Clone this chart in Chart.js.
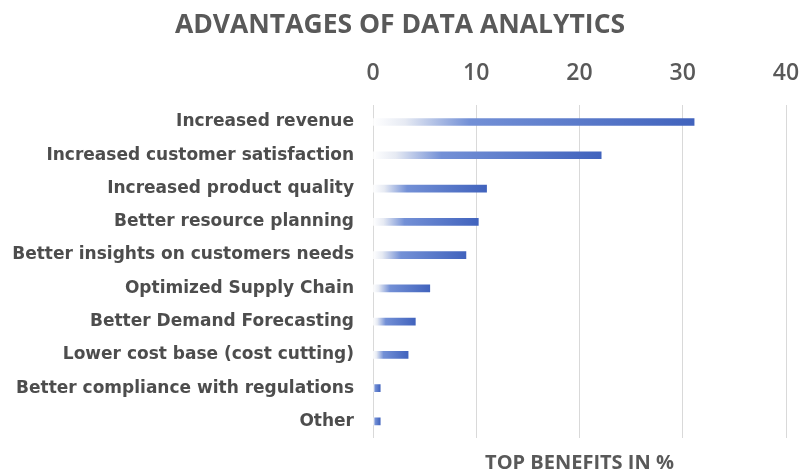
<!DOCTYPE html>
<html>
<head>
<meta charset="utf-8">
<script src="https://cdn.jsdelivr.net/npm/chart.js@4/dist/chart.umd.min.js"></script>
<style>
  html, body { margin: 0; padding: 0; background: #fff; }
  #wrap { width: 800px; height: 475px; }
</style>
</head>
<body>
<div id="wrap"><canvas id="benefits"></canvas></div>
<script>
const categories = [
  'Increased revenue',
  'Increased customer satisfaction',
  'Increased product quality',
  'Better resource planning',
  'Better insights on customers needs',
  'Optimized Supply Chain',
  'Better Demand Forecasting',
  'Lower cost base (cost cutting)',
  'Better compliance with regulations',
  'Other'
];
const benefitPct = [31.1, 22.1, 11, 10.2, 9, 5.5, 4.1, 3.4, 0.7, 0.7];
const tickValues = [0, 10, 20, 30, 40];

const grey = '#595959';

// each bar fades in from white at its base to blue at its tip
function barFill(ctx) {
  const chart = ctx.chart;
  if (!chart.chartArea || ctx.dataIndex === undefined) return '#4a6cc4';
  const x = chart.scales.x;
  const x0 = x.getPixelForValue(0);
  const x1 = x.getPixelForValue(ctx.raw);
  if (x1 - x0 < 1) return '#4a6cc4';
  const g = chart.ctx.createLinearGradient(x0, 0, x1, 0);
  g.addColorStop(0, 'rgba(255,255,255,1)');
  g.addColorStop(0.1, '#e6eaf3');
  g.addColorStop(0.3, '#7390d6');
  g.addColorStop(1, '#4163bd');
  return g;
}

// keep the plot's right edge close to the canvas edge
function trimPadding(s) {
  s.paddingLeft = 0;
  s.paddingRight = 14;
}

new Chart(document.getElementById('benefits'), {
  type: 'bar',
  data: {
    labels: categories,
    datasets: [{
      label: 'Top benefits in %',
      data: benefitPct,
      backgroundColor: barFill,
      barThickness: 7,
      borderWidth: 0
    }]
  },
  options: {
    indexAxis: 'y',
    responsive: true,
    maintainAspectRatio: false,
    animation: false,
    layout: { padding: { left: 0, right: 0, top: 0, bottom: 0 } },
    plugins: {
      legend: { display: false },
      tooltip: { enabled: false },
      title: {
        display: true,
        text: 'ADVANTAGES OF DATA ANALYTICS',
        color: grey,
        font: { family: 'Open Sans', size: 26.5, weight: 'bold' },
        padding: { top: 10, bottom: 0 }
      }
    },
    scales: {
      x: {
        position: 'top',
        min: 0,
        max: 40,
        afterBuildTicks: s => { s.ticks = tickValues.map(v => ({ value: v })); },
        afterFit: trimPadding,
        ticks: {
          color: grey,
          font: { family: 'Open Sans', size: 23, weight: '600' },
          padding: 18
        },
        grid: { color: '#d9d9d9', lineWidth: 1, drawTicks: false },
        border: { display: false }
      },
      x2: {
        position: 'bottom',
        min: 0,
        max: 40,
        afterFit: trimPadding,
        ticks: { display: false },
        grid: { display: false, drawTicks: false },
        border: { display: false },
        title: {
          display: true,
          text: 'TOP BENEFITS IN %',
          color: grey,
          font: { family: 'Open Sans', size: 20, weight: 'bold' },
          padding: { top: 13, bottom: 0 }
        }
      },
      y: {
        afterFit: s => { s.width = 373; },
        ticks: {
          color: '#4d4d4d',
          font: { family: 'DejaVu Sans', size: 17, weight: 'bold' },
          padding: 19
        },
        grid: { display: false, drawTicks: false },
        border: { display: false }
      }
    }
  }
});
</script>
</body>
</html>
